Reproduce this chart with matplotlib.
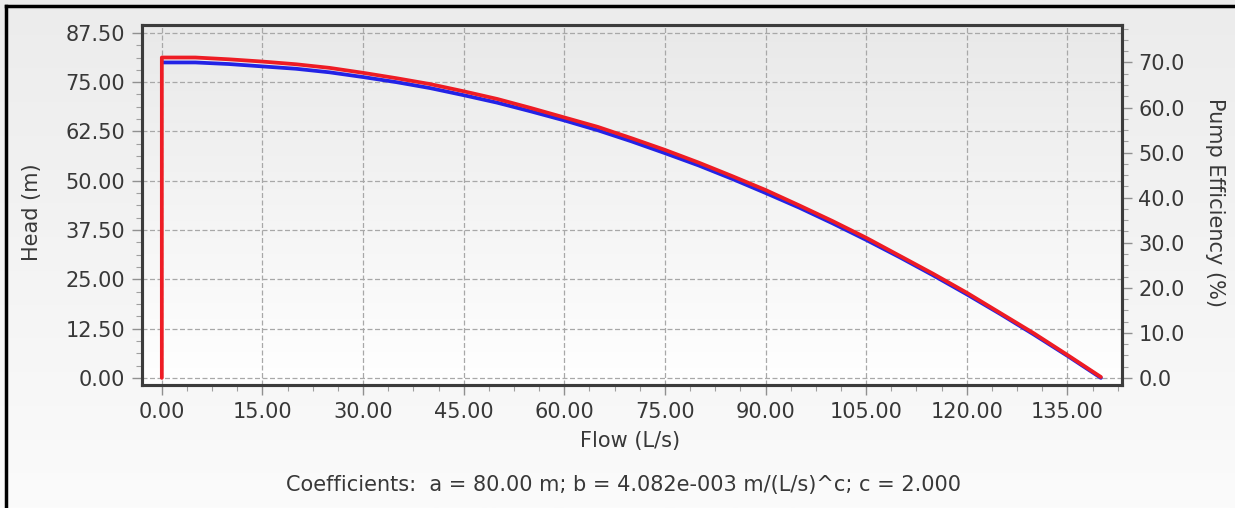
import numpy as np
import matplotlib.pyplot as plt
from matplotlib.ticker import MultipleLocator, AutoMinorLocator, FormatStrFormatter
from matplotlib.colors import LinearSegmentedColormap
from matplotlib.lines import Line2D

# head curve (blue, left axis)
flow = [0, 5, 10, 15, 20, 25, 30, 35, 40, 45, 50, 55, 60, 65, 70,
        75, 80, 85, 90, 95, 100, 105, 110, 115, 120, 125, 130, 135, 140]
head = [80.0, 80.0, 79.6, 79.0, 78.4, 77.5, 76.3, 75.0, 73.5, 71.7, 69.8, 67.6, 65.3, 62.8, 60.0,
        57.0, 53.9, 50.5, 46.9, 43.2, 39.2, 35.0, 30.6, 26.0, 21.2, 16.2, 11.0, 5.6, 0.0]

# efficiency curve (red, right axis)
eff_flow = [0, 0, 5, 10, 15, 20, 25, 30, 35, 40, 45, 50, 55, 60, 65, 70,
            75, 80, 85, 90, 95, 100, 105, 110, 115, 120, 125, 130, 135, 140]
efficiency = [0.0, 71.1, 71.1, 70.7, 70.2, 69.6, 68.8, 67.7, 66.5, 65.2, 63.6, 61.9, 59.9, 57.8, 55.7, 53.2,
              50.6, 47.8, 44.8, 41.7, 38.3, 34.8, 31.1, 27.1, 23.1, 18.9, 14.4, 9.9, 5.1, 0.2]

coef_text = "Coefficients:  a = 80.00 m; b = 4.082e-003 m/(L/s)^c; c = 2.000"

W, H = 1235, 508
fig = plt.figure(figsize=(W / 100, H / 100), dpi=100)

# figure background gradient
bg = fig.add_axes([0, 0, 1, 1], zorder=-2)
bg_cmap = LinearSegmentedColormap.from_list("bg", ["#fbfbfb", "#ececec"])
bg.imshow(np.linspace(0, 1, 256)[:, None][::-1], aspect="auto", cmap=bg_cmap,
          extent=[0, 1, 0, 1])
bg.axis("off")

pos = [141.7 / W, 1 - 385 / H, (1121.7 - 141.7) / W, 360 / H]

# plot area gradient
pbg = fig.add_axes(pos, zorder=-1)
p_cmap = LinearSegmentedColormap.from_list("pbg", ["#ffffff", "#e9e9e9"])
pbg.imshow(np.linspace(0, 1, 256)[:, None][::-1], aspect="auto", cmap=p_cmap,
           extent=[0, 1, 0, 1])
pbg.axis("off")

ax = fig.add_axes(pos)
ax.patch.set_alpha(0)
ax2 = ax.twinx()

ax.plot(flow, head, color="#2323e6", lw=2.7, solid_capstyle="round", zorder=3)
ax2.plot(eff_flow, efficiency, color="#ee1c24", lw=2.7, solid_capstyle="round", zorder=4)

ax.set_xlim(-3.0, 143.1)
ax.set_ylim(-1.8, 89.5)
ax2.set_ylim(-1.8 * 0.875, 89.5 * 0.875)

ax.xaxis.set_major_locator(MultipleLocator(15))
ax.xaxis.set_minor_locator(AutoMinorLocator(4))
ax.yaxis.set_major_locator(MultipleLocator(12.5))
ax.yaxis.set_minor_locator(AutoMinorLocator(4))
ax2.yaxis.set_major_locator(MultipleLocator(10))
ax2.yaxis.set_minor_locator(AutoMinorLocator(4))
ax.xaxis.set_major_formatter(FormatStrFormatter("%.2f"))
ax.yaxis.set_major_formatter(FormatStrFormatter("%.2f"))
ax2.yaxis.set_major_formatter(FormatStrFormatter("%.1f"))

ax.grid(True, which="major", color="#a8a8a8", linestyle=(0, (4, 2)), lw=0.9)

txt = "#383838"
fs = 15
for a in (ax, ax2):
    a.tick_params(which="major", length=7, width=1, color="#909090",
                  labelsize=fs, labelcolor=txt, pad=5)
    a.tick_params(which="minor", length=4, width=0.8, color="#a0a0a0")
    for s in a.spines.values():
        s.set_color("#3c3c3c")
        s.set_linewidth(2.2)

fig.text(630 / W, 1 - 441 / H, "Flow (L/s)", ha="center", va="center",
         fontsize=fs, color=txt)
fig.text(32 / W, 1 - 212 / H, "Head (m)", ha="center", va="center",
         fontsize=fs, color=txt, rotation=90)
fig.text(1215 / W, 1 - 202 / H, "Pump Efficiency (%)", ha="center", va="center",
         fontsize=fs, color=txt, rotation=270)
fig.text(624 / W, 1 - 485 / H, coef_text, ha="center", va="center",
         fontsize=fs, color=txt)

# outer black frame (top and left)
fig.add_artist(Line2D([6 / W, 6 / W], [0, 1 - 6 / H], color="black", lw=2.5,
                      transform=fig.transFigure))
fig.add_artist(Line2D([6 / W, 1], [1 - 6 / H, 1 - 6 / H], color="black", lw=2.5,
                      transform=fig.transFigure))

fig.savefig("out.png", dpi=100)
